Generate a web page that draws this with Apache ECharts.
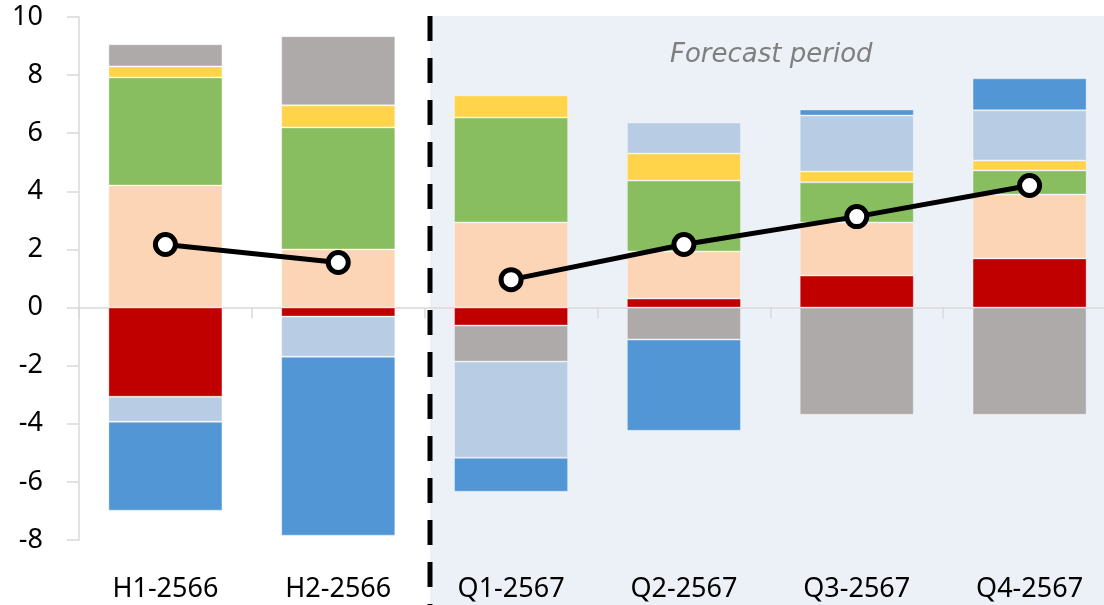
<!DOCTYPE html>
<html>
<head>
<meta charset="utf-8">
<script src="https://cdn.jsdelivr.net/npm/echarts@6/dist/echarts.min.js"></script>
<style>
  html, body { margin: 0; padding: 0; background: #fff; overflow: hidden; width: 1104px; height: 605px; }
  /* the last category runs slightly past the right edge of the page */
  #chart { width: 1116px; height: 605px; }
</style>
</head>
<body>
<div id="chart"></div>
<script>
// Periods on the x axis
const categories = ['H1-2566', 'H2-2566', 'Q1-2567', 'Q2-2567', 'Q3-2567', 'Q4-2567'];
// Y axis ticks
const yTicks = { min: -8, max: 10, interval: 2 };

// Contributions (stacked; positives and negatives stack separately)
const compRed       = [-3.07, -0.31, -0.62, 0.31, 1.10, 1.69];
const compPeach     = [4.20, 2.00, 2.93, 1.62, 1.83, 2.20];
const compGreen     = [3.72, 4.20, 3.61, 2.44, 1.38, 0.83];
const compYellow    = [0.38, 0.76, 0.76, 0.93, 0.37, 0.34];
const compGray      = [0.76, 2.38, -1.24, -1.10, -3.69, -3.69];
const compLightBlue = [-0.86, -1.38, -3.31, 1.07, 1.93, 1.73];
const compBlue      = [-3.06, -6.16, -1.17, -3.14, 0.21, 1.10];

// Total (line), actual and forecast segments
const totalActual   = [2.17, 1.55, null, null, null, null];
const totalForecast = [null, null, 0.96, 2.17, 3.13, 4.20];

const chart = echarts.init(document.getElementById('chart'));

const barBorder = 'rgba(255,255,255,0.35)';
function barSeries(name, data, color) {
  return {
    name, type: 'bar', stack: 'total', data,
    barWidth: '66%',
    itemStyle: { color, borderColor: barBorder, borderWidth: 1 },
    xAxisIndex: 0, yAxisIndex: 0, z: 3
  };
}
function lineSeries(name, data) {
  return {
    name, type: 'line', data, connectNulls: false,
    symbol: 'circle', symbolSize: 20,
    lineStyle: { color: '#000', width: 5 },
    itemStyle: { color: '#fff', borderColor: '#000', borderWidth: 5 },
    xAxisIndex: 0, yAxisIndex: 0, z: 5
  };
}

const labelFont = { fontFamily: 'Noto Sans', fontSize: 27, color: '#000' };

chart.setOption({
  animation: false,
  grid: { left: 79, right: 0, top: 17, height: 523, containLabel: false },
  xAxis: [
    {
      type: 'category', data: categories,
      axisLine: { onZero: true, lineStyle: { color: '#d9d9d9', width: 1.5 } },
      axisTick: { show: true, length: 11, lineStyle: { color: '#d9d9d9', width: 1.5 } },
      axisLabel: { show: false },
      splitLine: { show: false }
    },
    {
      type: 'category', data: categories, position: 'bottom',
      axisLine: { show: false }, axisTick: { show: false },
      axisLabel: Object.assign({ margin: 36 }, labelFont)
    }
  ],
  yAxis: {
    type: 'value', min: yTicks.min, max: yTicks.max, interval: yTicks.interval,
    axisLine: { show: true, lineStyle: { color: '#d9d9d9', width: 1.5 } },
    axisTick: { show: true, length: 12, lineStyle: { color: '#d9d9d9', width: 1.5 } },
    axisLabel: Object.assign({ margin: 36 }, labelFont),
    splitLine: { show: false }
  },
  graphic: [
    {
      type: 'rect', z: -10, silent: true,
      shape: { x: 430, y: 16, width: 700, height: 600 },
      style: { fill: '#ecf0f7' }
    },
    {
      type: 'line', z: 10, silent: true,
      shape: { x1: 430, y1: 16, x2: 430, y2: 605 },
      style: { stroke: '#000', lineWidth: 5, lineDash: [25, 17] }
    },
    {
      type: 'text', z: 10, silent: true,
      left: 670, top: 42,
      style: {
        text: 'Forecast period', fill: '#7f7f7f',
        font: 'italic 26px "DejaVu Sans"'
      }
    }
  ],
  series: [
    barSeries('Red', compRed, '#c00000'),
    barSeries('Peach', compPeach, '#fbd5b5'),
    barSeries('Green', compGreen, '#88be5f'),
    barSeries('Yellow', compYellow, '#ffd34a'),
    barSeries('Gray', compGray, '#aeaaaa'),
    barSeries('Light blue', compLightBlue, '#b8cce4'),
    barSeries('Blue', compBlue, '#5296d5'),
    lineSeries('Total', totalActual),
    lineSeries('Total forecast', totalForecast)
  ]
});
</script>
</body>
</html>
